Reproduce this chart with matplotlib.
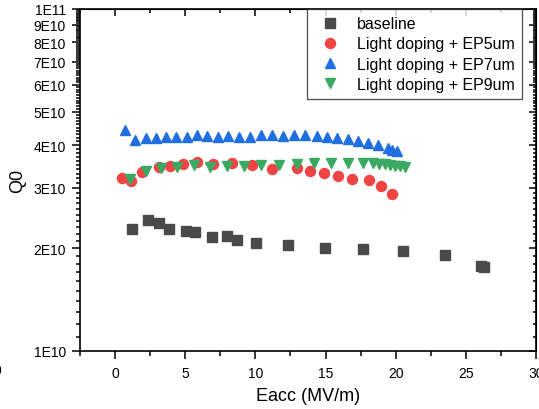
#Q0 vs Eacc for baseline and light doping cavities
import numpy as np
import matplotlib.pyplot as plt
from matplotlib.ticker import FixedLocator, MultipleLocator, NullFormatter

plt.rcParams['font.family'] = ['Liberation Sans', 'DejaVu Sans']

# data (Eacc in MV/m, Q0)
base_x = [1.24, 2.38, 3.14, 3.87, 5.04, 5.73, 6.94, 8.01, 8.72, 10.07, 12.35,
          14.99, 17.70, 20.55, 23.54, 26.06, 26.30]
base_q = [2.28e10, 2.42e10, 2.37e10, 2.28e10, 2.24e10, 2.23e10, 2.15e10, 2.17e10,
          2.11e10, 2.07e10, 2.04e10, 2.00e10, 1.99e10, 1.96e10, 1.91e10, 1.77e10, 1.76e10]

ep5_x = [0.52, 1.12, 1.90, 3.14, 3.92, 4.87, 5.87, 7.01, 8.36, 9.76, 11.17, 12.95,
         13.90, 14.92, 15.87, 16.91, 18.08, 18.98, 19.77]
ep5_q = [3.20e10, 3.14e10, 3.33e10, 3.44e10, 3.48e10, 3.52e10, 3.56e10, 3.52e10,
         3.54e10, 3.50e10, 3.41e10, 3.43e10, 3.35e10, 3.31e10, 3.24e10, 3.18e10,
         3.16e10, 3.04e10, 2.87e10]

ep7_x = [0.71, 1.45, 2.18, 2.90, 3.63, 4.37, 5.11, 5.84, 6.58, 7.32, 8.08, 8.84,
         9.62, 10.41, 11.17, 11.95, 12.76, 13.57, 14.37, 15.11, 15.85, 16.61,
         17.34, 18.06, 18.77, 19.44, 19.74, 20.10]
ep7_q = [4.44e10, 4.15e10, 4.19e10, 4.20e10, 4.22e10, 4.22e10, 4.22e10, 4.27e10,
         4.25e10, 4.23e10, 4.25e10, 4.22e10, 4.22e10, 4.27e10, 4.28e10, 4.25e10,
         4.27e10, 4.28e10, 4.24e10, 4.22e10, 4.19e10, 4.17e10, 4.10e10, 4.06e10,
         4.01e10, 3.91e10, 3.88e10, 3.85e10]

ep9_x = [1.07, 2.18, 3.28, 4.44, 5.65, 6.77, 7.96, 9.19, 10.43, 11.67, 12.95,
         14.21, 15.42, 16.61, 17.70, 18.36, 18.84, 19.24, 19.60, 19.96, 20.31, 20.67]
ep9_q = [3.18e10, 3.37e10, 3.42e10, 3.45e10, 3.50e10, 3.45e10, 3.47e10, 3.48e10,
         3.49e10, 3.51e10, 3.52e10, 3.54e10, 3.55e10, 3.55e10, 3.55e10, 3.54e10,
         3.53e10, 3.52e10, 3.50e10, 3.48e10, 3.47e10, 3.44e10]

fig = plt.figure(figsize=(5.39, 4.10), dpi=100)
ax = fig.add_axes([80/539, 58/410, 456/539, 342/410])

ax.plot(base_x, base_q, 's', color='#4a4a4a', ms=6.8, label='baseline')
ax.plot(ep5_x, ep5_q, 'o', color='#f04444', ms=7.2, label='Light doping + EP5um')
ax.plot(ep7_x, ep7_q, '^', color='#1f6fe0', ms=7.8, label='Light doping + EP7um')
ax.plot(ep9_x, ep9_q, 'v', color='#3aaa62', ms=7.8, label='Light doping + EP9um')

ax.set_yscale('log')
ax.set_xlim(-2.5, 30)
ax.set_ylim(1e10, 1e11)

majors = [k * 1e10 for k in range(1, 11)]
minors = np.arange(1.0, 10.0, 0.1) * 1e10
ax.yaxis.set_major_locator(FixedLocator(majors))
ax.yaxis.set_minor_locator(FixedLocator(minors))
ax.yaxis.set_minor_formatter(NullFormatter())
ax.set_yticklabels([f'{k}E10' for k in range(1, 10)] + ['1E11'])

ax.xaxis.set_major_locator(MultipleLocator(5))
ax.xaxis.set_minor_locator(MultipleLocator(2.5))

ax.tick_params(which='both', labelsize=10, width=1.1, color='black')
ax.tick_params(which='major', length=6, pad=4)
ax.tick_params(axis='x', which='major', pad=5)
ax.tick_params(which='minor', length=3.5)
ax.tick_params(axis='y', which='minor', length=3)

# mirror ticks on top and right, pointing inward
ax_top = ax.secondary_xaxis('top')
ax_top.xaxis.set_major_locator(MultipleLocator(5))
ax_top.xaxis.set_minor_locator(MultipleLocator(2.5))
ax_top.tick_params(which='both', direction='in', labeltop=False, width=1.1)
ax_top.tick_params(which='major', length=5)
ax_top.tick_params(which='minor', length=3)

ax_r = ax.secondary_yaxis('right')
ax_r.yaxis.set_major_locator(FixedLocator(majors))
ax_r.yaxis.set_minor_locator(FixedLocator(minors))
ax_r.tick_params(which='both', direction='in', labelright=False, width=1.1)
ax_r.tick_params(which='major', length=5)
ax_r.tick_params(which='minor', length=2.5)

for s in ax.spines.values():
    s.set_linewidth(1.2)

ax.set_xlabel('Eacc (MV/m)', fontsize=13, labelpad=5)
ax.set_ylabel('Q0', fontsize=13)
ax.yaxis.set_label_coords(-0.118, 0.5)

leg = ax.legend(loc='upper right', bbox_to_anchor=(522/539, 400/410),
                bbox_transform=fig.transFigure, fontsize=11.5, frameon=True,
                fancybox=False, edgecolor='#222222', borderpad=0.45,
                handletextpad=0.7, labelspacing=0.33, borderaxespad=0,
                handlelength=2.0)
leg.get_frame().set_linewidth(0.9)

# leftover tick label from the neighbouring panel
fig.text(-0.012, 0.095, '0', fontsize=10, va='center')

fig.savefig('out.png', dpi=100)
